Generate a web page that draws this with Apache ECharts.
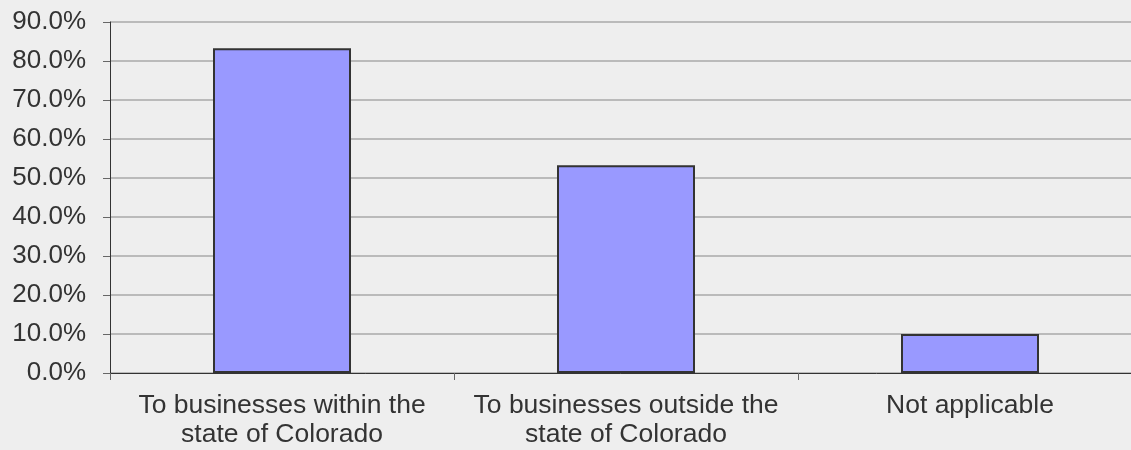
<!DOCTYPE html>
<html><head><meta charset="utf-8">
<script src="https://cdn.jsdelivr.net/npm/echarts@6/dist/echarts.min.js"></script>
<style>html,body{margin:0;padding:0;background:#eeeeee}#c{width:1131px;height:450px}</style>
</head><body><div id="c"></div>
<script>
const categories = ["To businesses within the\nstate of Colorado", "To businesses outside the\nstate of Colorado", "Not applicable"];
const values = [83.3, 53.3, 10.0];
const yTicks = { min: 0, max: 90, interval: 10 };

const chart = echarts.init(document.getElementById('c'), null, {renderer: 'canvas'});
chart.setOption({
  backgroundColor: '#eeeeee',
  animation: false,
  grid: { left: 110, width: 1032, top: 22, height: 351, outerBoundsMode: 'none', containLabel: false },
  xAxis: {
    type: 'category', data: categories,
    axisLine: { lineStyle: { color: '#333', width: 1 } },
    axisTick: { show: true, interval: 0, length: 7, lineStyle: { color: '#666' } },
    axisLabel: { interval: 0, color: '#333', fontFamily: 'Liberation Sans, Arial, sans-serif', fontSize: 26.5, lineHeight: 29, margin: 18 }
  },
  yAxis: {
    type: 'value', min: yTicks.min, max: yTicks.max, interval: yTicks.interval,
    axisLine: { show: true, lineStyle: { color: '#333', width: 1 } },
    axisTick: { show: true, length: 7, lineStyle: { color: '#666' } },
    splitLine: { lineStyle: { color: '#a8a8a8', width: 1.5 } },
    axisLabel: { color: '#333', fontFamily: 'Liberation Sans, Arial, sans-serif', fontSize: 26, margin: 24,
      formatter: v => v.toFixed(1) + '%' }
  },
  series: [{
    type: 'bar', data: values, barWidth: 138,
    itemStyle: { color: '#9999ff', borderColor: '#333', borderWidth: 2 }
  }]
});
</script></body></html>
